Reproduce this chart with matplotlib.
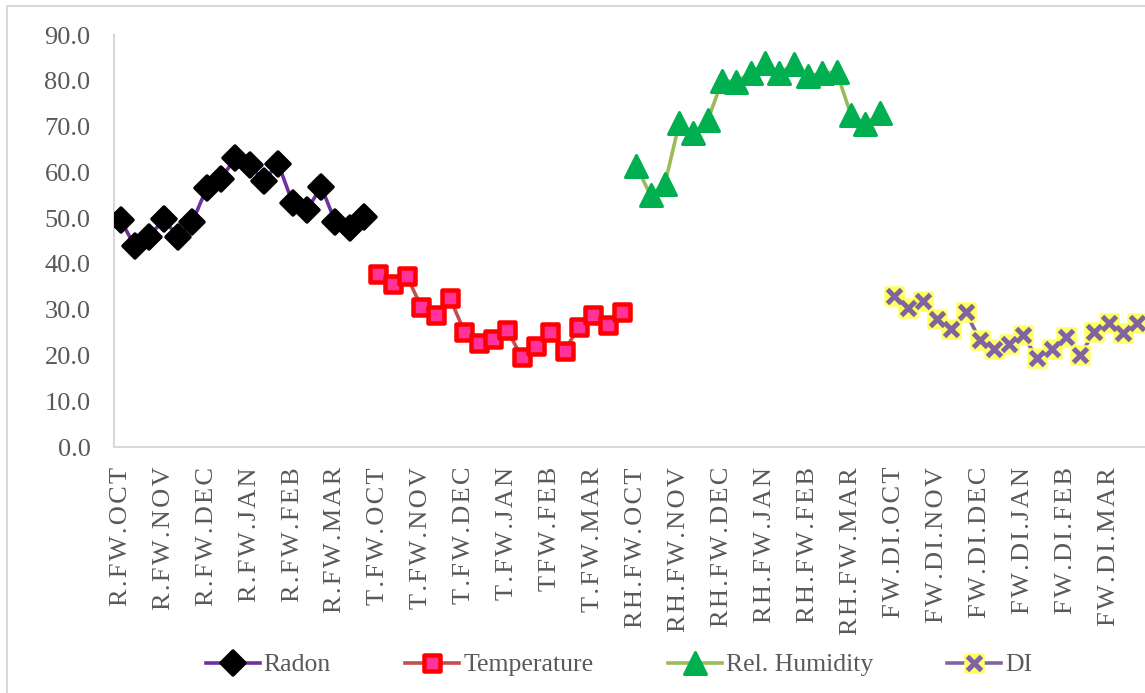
import numpy as np
import matplotlib
matplotlib.use("Agg")
import matplotlib.pyplot as plt
from matplotlib.legend_handler import HandlerTuple
from matplotlib.markers import MarkerStyle
from matplotlib.patches import Rectangle

plt.rcParams["font.family"] = ["Liberation Serif", "DejaVu Serif"]

# tick labels, one per month (3 readings per month)
tick_labels = [
    "R.FW.OCT", "R.FW.NOV", "R.FW.DEC", "R.FW.JAN", "R.FW.FEB", "R.FW.MAR",
    "T.FW.OCT", "T.FW.NOV", "T.FW.DEC", "T.FW.JAN", "TFW.FEB", "T.FW.MAR",
    "RH.FW.OCT", "RH.FW.NOV", "RH.FW.DEC", "RH.FW.JAN", "RH.FW.FEB", "RH.FW.MAR",
    "FW.DI.OCT", "FW.DI.NOV", "FW.DI.DEC", "FW.DI.JAN", "FW.DI.FEB", "FW.DI.MAR",
]
per_month = 3

radon = [49.6, 43.8, 45.8, 49.9, 45.8, 49.1, 56.5, 58.5, 63.2,
         61.6, 58.2, 61.9, 53.4, 51.7, 56.9, 49.1, 47.8, 50.3]
temperature = [37.8, 35.7, 37.3, 30.5, 28.8, 32.5, 25.2, 22.8, 23.7,
               25.5, 19.7, 22.1, 25.2, 21.0, 26.3, 28.8, 26.6, 29.5]
humidity = [61.4, 55.0, 57.4, 70.7, 68.5, 71.4, 80.0, 79.8, 81.7,
            83.8, 81.7, 83.6, 81.0, 81.7, 81.9, 72.5, 70.5, 72.9]
di = [33.0, 30.3, 31.9, 27.9, 25.7, 29.5, 23.4, 21.5, 22.6,
      24.5, 19.4, 21.3, 24.1, 20.1, 25.2, 27.0, 24.8, 27.1]

TEXT = "#595959"
GRID = "#D9D9D9"
PX = 72 / 100  # points per pixel at dpi 100


def rounded(m):
    return MarkerStyle(m, joinstyle="round")


fig = plt.figure(figsize=(11.45, 6.93), dpi=100)
W, H = 1145, 693
ax = fig.add_axes([113.5 / W, 1 - 447 / H, (1144.6 - 113.5) / W, (447 - 35) / H])

# outer chart border
fig.patches.append(Rectangle((7 / W, -0.05), 1.1, 1 - 6 / H + 0.05, transform=fig.transFigure,
                             fill=False, edgecolor=GRID, linewidth=1.5))

n = len(radon)
x_r = np.arange(n)
x_t = x_r + n
x_h = x_r + 2 * n
x_d = x_r + 3 * n

lw = 3.6 * PX
h_radon, = ax.plot(x_r, radon, color="#7030A0", lw=lw, marker=rounded("D"), ms=17.5 * PX,
                   mfc="black", mec="black", mew=3.5 * PX, zorder=3)
h_temp, = ax.plot(x_t, temperature, color="#C0504D", lw=lw, marker=rounded("s"), ms=16.5 * PX,
                  mfc="#FF3399", mec="#FF0000", mew=4.5 * PX, zorder=3)
h_hum, = ax.plot(x_h, humidity, color="#9BBB59", lw=lw, marker=rounded("^"), ms=23 * PX,
                 mfc="#00B050", mec="#00B050", mew=3 * PX, zorder=3)
h_di_bg, = ax.plot(x_d, di, color="#8064A2", lw=lw, marker=rounded("s"), ms=17 * PX,
                   mfc="#FFFF66", mec="#FFFF66", mew=3.5 * PX, zorder=3)
h_di_x, = ax.plot(x_d, di, ls="none", marker="x", ms=14.5 * PX,
                  mec="#8064A2", mew=5 * PX, zorder=4)

ax.set_xlim(-0.5, 4 * n - 0.5)
ax.set_ylim(0, 90)
ax.set_yticks(np.arange(0, 91, 10))
ax.set_yticklabels([f"{v:.1f}" for v in np.arange(0, 91, 10)])

# spaced-out category labels
spaced = ["\u200a".join(t) for t in tick_labels]
ax.set_xticks(np.arange(0, 4 * n, per_month))
ax.set_xticklabels(spaced, rotation=90, va="top", ha="center")

ax.tick_params(axis="y", length=0, pad=23 * PX, labelsize=19, labelcolor=TEXT)
ax.tick_params(axis="x", length=0, pad=20 * PX, labelsize=19, labelcolor=TEXT)
for s in ("top", "right"):
    ax.spines[s].set_visible(False)
for s in ("left", "bottom"):
    ax.spines[s].set_color(GRID)
    ax.spines[s].set_linewidth(1.5)

leg = fig.legend([h_radon, h_temp, h_hum, (h_di_bg, h_di_x)],
                 ["Radon", "Temperature", "Rel. Humidity", "DI"],
                 handler_map={tuple: HandlerTuple(ndivide=1, pad=0)},
                 loc="center", bbox_to_anchor=(619 / W, 1 - 665 / H), ncol=4,
                 frameon=False, fontsize=18.5, handlelength=2.1, handletextpad=0.15,
                 columnspacing=2.9, borderpad=0)
for t in leg.get_texts():
    t.set_color(TEXT)

fig.savefig("out.png", dpi=100)
